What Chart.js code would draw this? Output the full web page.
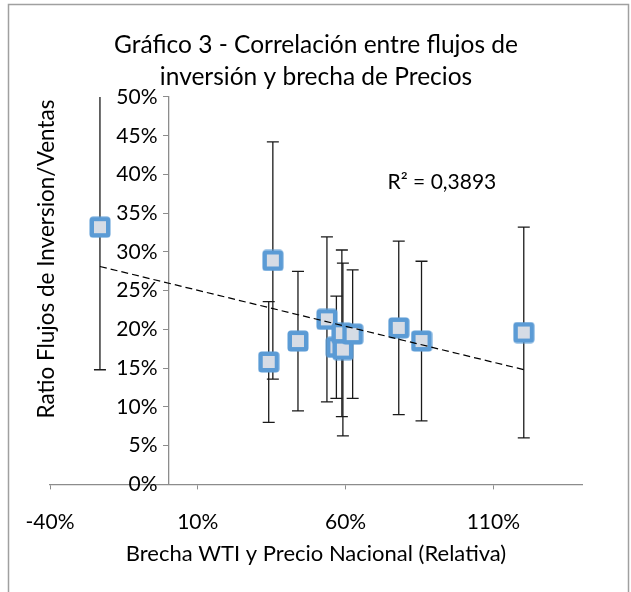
<!DOCTYPE html>
<html>
<head>
<meta charset="utf-8">
<script src="https://cdn.jsdelivr.net/npm/chart.js@4.4.1/dist/chart.umd.min.js"></script>
<style>
    html, body { margin: 0; padding: 0; background: #fff; }
</style>
</head>
<body>
<canvas id="grafico" width="631" height="592"></canvas>
<script>
// datos (en %)
const brecha = [-23.1, 35.4, 34.0, 43.9, 53.7, 56.9, 58.75, 59.1, 62.4, 78.0, 85.7, 120.3];
const ratio = [33.2, 28.9, 15.8, 18.5, 21.3, 17.7, 19.5, 17.4, 19.4, 20.2, 18.5, 19.6];
const errorBar = [18.4, 15.3, 7.8, 9.0, 10.65, 6.6, 10.75, 11.15, 8.3, 11.2, 10.3, 13.6];
const xTicks = [-40, 10, 60, 110];
const yTicks = [0, 5, 10, 15, 20, 25, 30, 35, 40, 45, 50];
const r2Text = "R² = 0,3893";

const FONT = "Lato";

// linea de tendencia (minimos cuadrados)
function tendencia(xs, ys) {
    let n = xs.length, mx = 0, my = 0;
    for (let i = 0; i < n; i++) { mx += xs[i]; my += ys[i]; }
    mx /= n; my /= n;
    let sxy = 0, sxx = 0;
    for (let i = 0; i < n; i++) {
        sxy += (xs[i] - mx) * (ys[i] - my);
        sxx += (xs[i] - mx) * (xs[i] - mx);
    }
    let m = sxy / sxx, b = my - m * mx;
    let x0 = Math.min(...xs), x1 = Math.max(...xs);
    return [{ x: x0, y: m * x0 + b }, { x: x1, y: m * x1 + b }];
}

// marcador cuadrado azul con centro gris
let marker = document.createElement("canvas");
marker.width = 22; marker.height = 22;
let mctx = marker.getContext("2d");
mctx.fillStyle = "#5B9BD5";
mctx.beginPath();
mctx.roundRect(0.5, 0.5, 21, 21, 3.5);
mctx.fill();
mctx.fillStyle = "#D6DCE5";
mctx.fillRect(5, 5, 12, 12);

const puntos = brecha.map((x, i) => ({ x: x, y: ratio[i] }));

const barrasError = {
    id: "barrasError",
    beforeDatasetsDraw(chart) {
        const ctx = chart.ctx, xs = chart.scales.x, ys = chart.scales.y, a = chart.chartArea;
        ctx.save();
        ctx.beginPath();
        ctx.rect(a.left, a.top, a.right - a.left, a.bottom - a.top);
        ctx.clip();
        ctx.strokeStyle = "#1a1a1a";
        ctx.lineWidth = 1.3;
        for (let i = 0; i < brecha.length; i++) {
            let px = xs.getPixelForValue(brecha[i]);
            let top = ys.getPixelForValue(ratio[i] + errorBar[i]);
            let bot = ys.getPixelForValue(ratio[i] - errorBar[i]);
            ctx.beginPath();
            ctx.moveTo(px, top); ctx.lineTo(px, bot);
            ctx.moveTo(px - 6, top); ctx.lineTo(px + 6, top);
            ctx.moveTo(px - 6, bot); ctx.lineTo(px + 6, bot);
            ctx.stroke();
        }
        ctx.restore();
    }
};

const textos = {
    id: "textos",
    afterDraw(chart) {
        const ctx = chart.ctx, xs = chart.scales.x, ys = chart.scales.y;
        ctx.save();
        ctx.fillStyle = "#000";
        // titulo eje y
        ctx.font = "22.5px " + FONT;
        ctx.textAlign = "center";
        ctx.textBaseline = "middle";
        ctx.translate(47, 259);
        ctx.rotate(-Math.PI / 2);
        ctx.fillText("Ratio Flujos de Inversion/Ventas", 0, 0);
        ctx.restore();

        ctx.save();
        ctx.font = "21px " + FONT;
        ctx.fillStyle = "#000";
        ctx.textBaseline = "middle";
        ctx.fillText(r2Text, xs.getPixelForValue(74.2), ys.getPixelForValue(39));
        // borde del area del grafico
        ctx.strokeStyle = "#A0A0A0";
        ctx.lineWidth = 1.5;
        ctx.strokeRect(8.5, 4.5, 620, 640);
        ctx.restore();
    }
};

new Chart(document.getElementById("grafico"), {
    type: "scatter",
    data: {
        datasets: [
            {
                label: "Tendencia",
                data: tendencia(brecha, ratio),
                showLine: true,
                borderColor: "#000",
                borderWidth: 1.2,
                borderDash: [7, 4],
                pointRadius: 0,
                fill: false
            },
            {
                label: "Ratio",
                data: puntos,
                pointStyle: marker,
                pointRadius: 11,
                pointHoverRadius: 11
            }
        ]
    },
    options: {
        responsive: false,
        animation: false,
        devicePixelRatio: 1,
        layout: { padding: { left: 50, right: 49, top: 0, bottom: 25 } },
        plugins: {
            legend: { display: false },
            tooltip: { enabled: false },
            title: {
                display: true,
                text: ["Gráfico 3 - Correlación entre flujos de", "inversión y brecha de Precios"],
                color: "#000",
                font: { family: FONT, size: 24.5, weight: "normal", lineHeight: 1.306 },
                padding: { top: 29, bottom: 4 }
            }
        },
        scales: {
            x: {
                type: "linear",
                min: -40,
                max: 140,
                afterBuildTicks: s => { s.ticks = xTicks.map(v => ({ value: v })); },
                ticks: {
                    color: "#000",
                    font: { family: FONT, size: 21 },
                    padding: 20,
                    callback: v => v + "%"
                },
                grid: { drawOnChartArea: false, color: "#8C8C8C", tickLength: 5 },
                border: { color: "#8C8C8C", width: 1.3 },
                title: {
                    display: true,
                    text: "Brecha WTI y Precio Nacional (Relativa)",
                    color: "#000",
                    font: { family: FONT, size: 22 },
                    padding: { top: -14, bottom: 0 }
                }
            },
            y: {
                type: "linear",
                position: { x: 0 },
                min: 0,
                max: 50,
                afterBuildTicks: s => { s.ticks = yTicks.map(v => ({ value: v })); },
                ticks: {
                    color: "#000",
                    font: { family: FONT, size: 21 },
                    callback: v => v + "%  "
                },
                grid: { drawOnChartArea: false, color: "#8C8C8C", tickLength: 5 },
                border: { color: "#8C8C8C", width: 1.3 }
            }
        }
    },
    plugins: [barrasError, textos]
});
</script>
</body>
</html>
